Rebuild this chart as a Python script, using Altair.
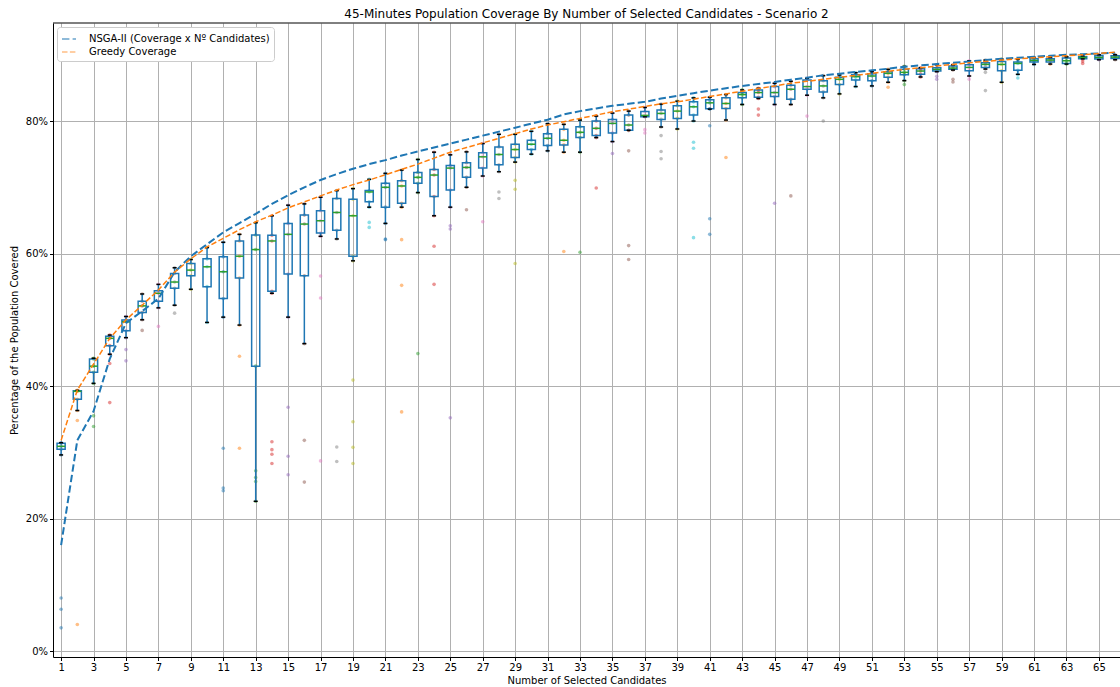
import altair as alt
import pandas as pd

ks = list(range(1, 67))

q1 = [30.45, 38.0, 42.07, 46.1, 48.35, 51.1, 52.8, 54.75, 56.65, 55.0,
      53.2, 56.3, 43.0, 54.3, 56.9, 56.65, 63.1, 63.5, 59.6, 67.8,
      67.0, 67.6, 70.6, 68.6, 69.6, 71.5, 72.9, 73.4, 74.5, 75.7,
      76.3, 76.4, 77.5, 77.8, 78.2, 78.6, 80.65, 80.25, 80.4, 80.9,
      81.85, 81.9, 83.5, 83.6, 83.7, 83.3, 84.8, 84.4, 85.5, 86.2,
      86.1, 86.6, 87.0, 87.05, 87.55, 87.8, 87.6, 88.1, 87.6, 87.65,
      88.9, 88.9, 88.7, 89.4, 89.35, 89.45]
med = [30.9, 39.2, 43.0, 47.2, 49.7, 52.1, 54.0, 55.7, 57.5, 58.0,
       57.25, 59.6, 60.6, 61.9, 62.9, 64.45, 64.95, 66.2, 65.7, 69.3,
       70.0, 70.2, 71.5, 71.85, 72.9, 73.0, 74.6, 74.95, 75.7, 76.5,
       77.4, 77.1, 78.3, 78.9, 79.65, 79.4, 80.85, 81.15, 81.5, 82.15,
       82.75, 82.65, 84.0, 84.3, 84.3, 84.8, 85.2, 85.3, 86.3, 86.7,
       86.8, 87.2, 87.35, 87.55, 87.8, 88.0, 88.1, 88.55, 88.55, 88.7,
       89.15, 89.2, 89.1, 89.6, 89.6, 89.65]
q3 = [31.35, 39.3, 44.1, 47.5, 49.96, 52.8, 54.4, 57.0, 58.5, 59.2,
      59.5, 61.9, 62.8, 62.75, 64.55, 65.8, 66.45, 68.3, 68.2, 69.5,
      70.6, 71.0, 72.25, 72.7, 73.3, 73.7, 75.2, 76.1, 76.5, 77.1,
      78.1, 78.75, 79.15, 80.0, 80.25, 80.9, 81.45, 81.65, 82.3, 82.9,
      83.2, 83.5, 84.3, 84.7, 85.2, 85.4, 86.2, 86.1, 86.6, 87.0,
      87.15, 87.45, 87.8, 87.9, 88.05, 88.3, 88.5, 88.8, 89.0, 88.9,
      89.4, 89.4, 89.5, 89.7, 89.85, 89.85]
wlo = [29.6, 36.3, 40.4, 44.8, 47.3, 50.0, 51.8, 52.2, 54.6, 49.6,
       50.4, 49.2, 22.6, 54.0, 50.4, 46.4, 62.6, 62.2, 58.9, 67.0,
       64.55, 67.0, 69.2, 65.7, 67.0, 70.0, 71.7, 72.35, 73.8, 75.0,
       75.5, 75.3, 75.3, 77.5, 76.9, 78.6, 80.65, 79.1, 78.8, 80.0,
       81.8, 80.15, 82.5, 83.4, 82.5, 82.5, 83.9, 83.5, 84.1, 85.2,
       85.3, 85.85, 86.1, 86.65, 87.45, 87.7, 86.8, 87.85, 85.85, 87.05,
       88.55, 88.6, 88.6, 89.4, 89.25, 89.25]
whi = [31.45, 39.35, 44.2, 47.7, 50.5, 53.9, 55.35, 57.86, 59.1, 60.9,
       61.7, 62.9, 64.65, 65.7, 67.3, 67.5, 68.5, 69.5, 69.8, 71.2,
       72.1, 72.6, 74.2, 75.3, 74.9, 75.35, 76.6, 78.0, 78.0, 78.45,
       79.6, 79.5, 80.15, 80.75, 81.2, 81.5, 82.05, 82.55, 83.0, 83.5,
       83.6, 84.0, 84.7, 84.95, 85.7, 86.0, 86.45, 86.85, 86.95, 87.3,
       87.45, 87.8, 88.25, 88.05, 88.5, 88.5, 89.1, 89.2, 89.35, 89.3,
       89.6, 89.6, 89.7, 89.8, 90.0, 90.0]
extra = [
    [8.0, 6.3, 3.5], [34.8, 4.0], [35.5, 33.9], [43.4, 37.5], [45.5, 43.8],
    [48.4], [49.0], [51.0], [], [],
    [30.6, 24.6, 24.2], [44.5, 30.6], [27.2, 26.2, 25.6], [31.6, 30.4, 29.7, 28.3], [36.8, 29.4, 26.6],
    [31.8, 25.5], [56.6, 53.3, 28.7], [30.8, 28.6], [40.9, 34.6, 30.75, 28.3], [64.7, 63.95],
    [62.1, 62.2], [62.1, 55.2, 36.1], [44.9], [61.1, 55.35], [64.2, 63.7, 35.2],
    [66.6], [64.8], [69.3, 68.3], [71.05, 69.7, 58.5], [],
    [], [60.3], [60.2], [69.9], [75.1],
    [75.5, 61.2, 59.1], [78.7, 78.2], [77.8, 75.4, 74.3], [], [76.8, 75.9, 62.4],
    [79.3, 65.25, 62.9], [74.5], [], [81.8, 80.9], [67.6],
    [68.7], [80.75], [80.0], [], [],
    [], [85.1], [85.5], [], [86.75, 86.3],
    [86.3, 85.9], [86.3], [87.35, 84.6], [], [86.5],
    [], [], [], [89.05, 88.7], [], [],
]

nsga = [16.0, 31.8, 36.2, 44.1, 49.5, 51.3, 53.2, 57.2, 59.6, 61.4,
        63.2, 64.6, 66.0, 67.5, 68.8, 70.0, 71.1, 72.0, 72.8, 73.5,
        74.1, 74.8, 75.4, 76.0, 76.6, 77.2, 77.8, 78.4, 79.0, 79.6,
        80.2, 81.0, 81.5, 81.9, 82.3, 82.6, 82.9, 83.4, 83.8, 84.2,
        84.6, 84.95, 85.3, 85.6, 85.9, 86.25, 86.55, 86.9, 87.15, 87.4,
        87.65, 87.9, 88.2, 88.4, 88.6, 88.8, 89.0, 89.2, 89.4, 89.55,
        89.7, 89.85, 90.0, 90.1, 90.2, 90.3]
greedy = [31.8, 39.4, 43.3, 47.2, 50.0, 52.2, 54.5, 57.2, 59.2, 61.0,
          62.3, 63.6, 64.8, 65.8, 66.9, 67.8, 68.7, 69.6, 70.4, 71.1,
          71.9, 72.7, 73.5, 74.4, 75.3, 76.0, 76.7, 77.4, 78.1, 78.8,
          79.4, 79.9, 80.4, 80.9, 81.4, 81.8, 82.2, 82.6, 82.9, 83.3,
          83.7, 84.1, 84.5, 84.9, 85.3, 85.7, 86.0, 86.3, 86.6, 86.9,
          87.2, 87.5, 87.8, 88.05, 88.3, 88.55, 88.8, 89.0, 89.2, 89.4,
          89.55, 89.7, 89.85, 90.0, 90.2, 90.4]

series_names = ["NSGA-II (Coverage x Nº Candidates)", "Greedy Coverage"]
tab10 = ["#1f77b4", "#ff7f0e", "#2ca02c", "#d62728", "#9467bd",
         "#8c564b", "#e377c2", "#7f7f7f", "#bcbd22", "#17becf"]
x_ticks = list(range(1, 66, 2))
y_ticks = [0, 20, 40, 60, 80]

box_df = pd.DataFrame({"k": ks, "q1": q1, "med": med, "q3": q3, "wlo": wlo, "whi": whi})

pt_rows = []
for i, k in enumerate(ks):
    c = tab10[(k - 1) % 10]
    for v in [wlo[i], q1[i], med[i], q3[i], whi[i]] + extra[i]:
        pt_rows.append({"k": k, "v": v, "c": c})
pts_df = pd.DataFrame(pt_rows)

line_df = pd.concat([
    pd.DataFrame({"k": ks, "v": nsga, "s": series_names[0]}),
    pd.DataFrame({"k": ks, "v": greedy, "s": series_names[1]}),
])

W, H = 1067, 634
FONT = "DejaVu Sans"
xs = alt.Scale(domain=[0.5, 66.3], nice=False, zero=False)
ys = alt.Scale(domain=[-0.9, 94.8], nice=False, zero=False)

x_axis = alt.Axis(values=x_ticks, title="Number of Selected Candidates",
                  grid=True, gridColor="#b0b0b0", gridWidth=1, tickColor="black",
                  tickSize=3.5, domainColor="black", labelFont=FONT, labelFontSize=10,
                  labelColor="black", titleFont=FONT, titleFontSize=10,
                  titleFontWeight="normal", titleColor="black", labelPadding=2,
                  titlePadding=3, labelFlush=False, labelOverlap=False)
y_axis = alt.Axis(values=y_ticks, labelExpr="datum.value + '%'",
                  title="Percentage of the Population Covered",
                  grid=True, gridColor="#b0b0b0", gridWidth=1, tickColor="black",
                  tickSize=3.5, domainColor="black", labelFont=FONT, labelFontSize=10,
                  labelColor="black", titleFont=FONT, titleFontSize=10,
                  titleFontWeight="normal", titleColor="black", labelPadding=2,
                  titlePadding=6, labelOverlap=False)

base_box = alt.Chart(box_df).transform_calculate(
    xl="datum.k - 0.25", xr="datum.k + 0.25",
    cl="datum.k - 0.125", cr="datum.k + 0.125")

points = alt.Chart(pts_df).mark_circle(size=13, opacity=0.5).encode(
    x=alt.X("k:Q", scale=xs, axis=x_axis),
    y=alt.Y("v:Q", scale=ys, axis=y_axis),
    color=alt.Color("c:N", scale=None),
)

boxes = base_box.mark_rect(fillOpacity=0, stroke="#1f77b4", strokeWidth=1.5).encode(
    x=alt.X("xl:Q", scale=xs, axis=x_axis), x2="xr:Q",
    y=alt.Y("q1:Q", scale=ys, axis=y_axis), y2="q3:Q")
whisk_lo = base_box.mark_rule(color="#1f77b4", strokeWidth=1.5).encode(
    x=alt.X("k:Q", scale=xs, axis=x_axis), y=alt.Y("wlo:Q", scale=ys, axis=y_axis), y2="q1:Q")
whisk_hi = base_box.mark_rule(color="#1f77b4", strokeWidth=1.5).encode(
    x=alt.X("k:Q", scale=xs, axis=x_axis), y=alt.Y("q3:Q", scale=ys, axis=y_axis), y2="whi:Q")
cap_lo = base_box.mark_rule(color="black", strokeWidth=1.5).encode(
    x=alt.X("cl:Q", scale=xs, axis=x_axis), x2="cr:Q", y=alt.Y("wlo:Q", scale=ys, axis=y_axis))
cap_hi = base_box.mark_rule(color="black", strokeWidth=1.5).encode(
    x=alt.X("cl:Q", scale=xs, axis=x_axis), x2="cr:Q", y=alt.Y("whi:Q", scale=ys, axis=y_axis))
medians = base_box.mark_rule(color="#2ca02c", strokeWidth=1.5).encode(
    x=alt.X("xl:Q", scale=xs, axis=x_axis), x2="xr:Q", y=alt.Y("med:Q", scale=ys, axis=y_axis))

legend = alt.Legend(title=None, orient="none", legendX=4, legendY=4,
                    symbolType="stroke", symbolSize=196, labelFont=FONT,
                    labelFontSize=10, labelColor="black", fillColor="white",
                    strokeColor="#cccccc", padding=4, cornerRadius=3,
                    rowPadding=0, labelOffset=12, labelLimit=0)

lines = alt.Chart(line_df).mark_line().encode(
    x=alt.X("k:Q", scale=xs, axis=x_axis), y=alt.Y("v:Q", scale=ys, axis=y_axis),
    color=alt.Color("s:N", scale=alt.Scale(domain=series_names, range=["#1f77b4", "#ff7f0e"]),
                    legend=legend, sort=series_names),
    strokeDash=alt.StrokeDash("s:N", scale=alt.Scale(domain=series_names, range=[[7.4, 3.2], [5.5, 2.4]]),
                              legend=legend, sort=series_names),
    strokeWidth=alt.StrokeWidth("s:N", scale=alt.Scale(domain=series_names, range=[2, 1.5]),
                                legend=legend, sort=series_names),
    order="k:Q",
)

top_frame = alt.Chart(pd.DataFrame({"a": [0]})).mark_rule(color="black", strokeWidth=1).encode(
    x=alt.value(0), x2=alt.value(W), y=alt.value(0))

chart = alt.layer(points, whisk_lo, whisk_hi, boxes, cap_lo, cap_hi, medians, lines, top_frame).properties(
    width=W, height=H,
    title=alt.TitleParams("45-Minutes Population Coverage By Number of Selected Candidates - Scenario 2",
                          font=FONT, fontSize=12, fontWeight="normal", color="black",
                          anchor="middle", offset=2),
    autosize=alt.AutoSizeParams(type="none"),
    padding={"left": 53, "top": 23, "right": 0, "bottom": 30},
    background="white",
).configure_view(stroke=None).configure_axis(labelOverlap=False)

chart.save("out.html", embed_options={"renderer": "svg", "actions": False})
